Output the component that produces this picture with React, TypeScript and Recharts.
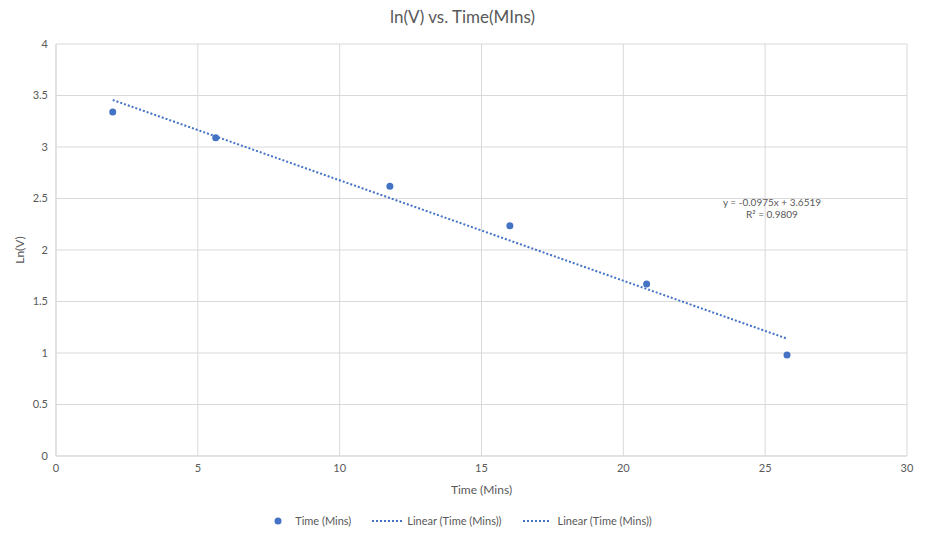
import { CartesianGrid, Legend, ReferenceDot, Scatter, ScatterChart, XAxis, YAxis } from "recharts"

const timeMins = [2.0, 5.63, 11.77, 16.0, 20.82, 25.77]
const lnV = [3.34, 3.09, 2.62, 2.235, 1.67, 0.98]

const xTicks = [0, 5, 10, 15, 20, 25, 30]
const yTicks = [0, 0.5, 1, 1.5, 2, 2.5, 3, 3.5, 4]

// Excel linear trendline shown on the chart
const trendSlope = -0.0975
const trendIntercept = 3.6519
const trendR2 = 0.9809

const BLUE = "#4472C4"
const GREY = "#595959"
const GRID = "#d9d9d9"
const FONT = "Lato, 'Open Sans', sans-serif"

const points = timeMins.map((t, i) => ({ x: t, y: lnV[i] }))
const xMin = Math.min(...timeMins)
const xMax = Math.max(...timeMins)
const trend = [xMin, xMax].map((x) => ({ x, y: trendSlope * x + trendIntercept }))

function Dotted({ w }: { w: number }) {
    return (
        <svg width={w} height={4}>
            <line x1={0} y1={2} x2={w} y2={2} stroke={BLUE} strokeWidth={2} strokeDasharray="2 2" />
        </svg>
    )
}

function LegendContent() {
    const item = { display: "flex", alignItems: "center" } as const
    return (
        <div style={{ display: "flex", justifyContent: "center", gap: 21, paddingTop: 8, paddingLeft: 18, fontSize: 11, color: GREY, fontFamily: FONT }}>
            <div style={item}>
                <svg width={10} height={10}>
                    <circle cx={5} cy={5} r={3.5} fill={BLUE} />
                </svg>
                <span style={{ marginLeft: 12 }}>Time (Mins)</span>
            </div>
            <div style={item}>
                <Dotted w={32} />
                <span style={{ marginLeft: 3 }}>Linear (Time (Mins))</span>
            </div>
            <div style={item}>
                <Dotted w={26} />
                <span style={{ marginLeft: 9 }}>Linear (Time (Mins))</span>
            </div>
        </div>
    )
}

function EquationLabel(props: any) {
    const { viewBox } = props
    const cx = viewBox.x + (viewBox.width || 0) / 2
    const cy = viewBox.y + (viewBox.height || 0) / 2
    return (
        <text x={cx} y={cy} textAnchor="middle" fontSize={10} fill={GREY} fontFamily={FONT}>
            <tspan x={cx} dy={0}>{`y = ${trendSlope}x + ${trendIntercept}`}</tspan>
            <tspan x={cx} dy={12}>{`R² = ${trendR2}`}</tspan>
        </text>
    )
}

export default function App() {
    return (
        <div style={{ position: "absolute", left: 0, top: 0, width: 925, height: 540, background: "#fff", fontFamily: FONT }}>
            <div style={{ position: "absolute", top: 6, left: 0, width: 925, textAlign: "center", fontSize: 17, color: GREY }}>
                ln(V) vs. Time(MIns)
            </div>
            <ScatterChart width={925} height={540} margin={{ top: 44, right: 18, left: 0, bottom: 0 }}>
                <CartesianGrid stroke={GRID} />
                <XAxis
                    type="number"
                    dataKey="x"
                    domain={[0, 30]}
                    ticks={xTicks}
                    tickLine={false}
                    axisLine={{ stroke: GRID }}
                    tick={{ fill: GREY, fontSize: 11, fontFamily: FONT }}
                    height={50}
                    label={{ value: "Time (Mins)", position: "insideBottom", offset: 12, fill: GREY, fontSize: 12, fontFamily: FONT }}
                />
                <YAxis
                    type="number"
                    dataKey="y"
                    domain={[0, 4]}
                    ticks={yTicks}
                    tickLine={false}
                    axisLine={{ stroke: GRID }}
                    tick={{ fill: GREY, fontSize: 11, fontFamily: FONT }}
                    width={56}
                    label={{ value: "Ln(V)", angle: -90, position: "insideLeft", offset: 20, fill: GREY, fontSize: 12, fontFamily: FONT, style: { textAnchor: "middle" } }}
                />
                <Scatter
                    name="Linear (Time (Mins))"
                    data={trend}
                    line={{ stroke: BLUE, strokeWidth: 2, strokeDasharray: "2 2" }}
                    shape={() => null}
                    isAnimationActive={false}
                />
                <Scatter
                    name="Time (Mins)"
                    data={points}
                    fill={BLUE}
                    shape={(p: any) => <circle cx={p.cx} cy={p.cy} r={3.5} fill={BLUE} />}
                    isAnimationActive={false}
                />
                <ReferenceDot x={25.24} y={2.43} r={0} fill="none" stroke="none" label={<EquationLabel />} />
                <Legend verticalAlign="bottom" content={<LegendContent />} wrapperStyle={{ height: 34 }} />
            </ScatterChart>
        </div>
    )
}
